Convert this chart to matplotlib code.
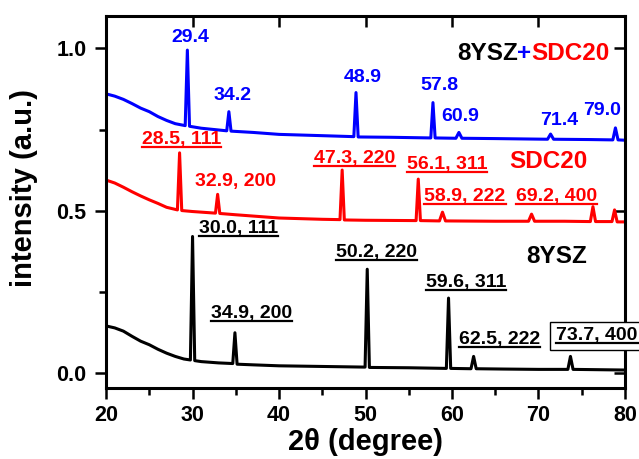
import matplotlib
matplotlib.use("Agg")
import matplotlib.pyplot as plt
from matplotlib.lines import Line2D
from matplotlib.ticker import MultipleLocator

plt.rcParams['font.family'] = ['Liberation Sans', 'DejaVu Sans']
plt.rcParams['font.weight'] = 'bold'

# 8YSZ (black)
ysz_x = [20, 21, 22, 23, 24, 25, 26, 27, 28, 29, 29.75, 30.0, 30.25, 31, 33,
         34.65, 34.9, 35.15, 37, 40, 45, 49.95, 50.2, 50.45, 55, 59.35, 59.6,
         59.85, 62.2, 62.5, 62.8, 66, 70, 73.4, 73.7, 74.0, 77, 80]
ysz_y = [0.144, 0.138, 0.128, 0.112, 0.097, 0.086, 0.072, 0.060, 0.050, 0.042,
         0.039, 0.420, 0.037, 0.034, 0.030, 0.028, 0.123, 0.026, 0.024, 0.021,
         0.019, 0.017, 0.319, 0.016, 0.015, 0.013, 0.230, 0.013, 0.012, 0.050,
         0.012, 0.011, 0.010, 0.010, 0.050, 0.010, 0.009, 0.008]

# SDC20 (red)
sdc_x = [20, 21, 22, 23, 24, 25, 26, 27, 28.25, 28.5, 28.75, 30, 32.65, 32.9,
         33.15, 35, 40, 45, 47.05, 47.3, 47.55, 50, 55.85, 56.1, 56.35, 58.55,
         58.9, 59.25, 65, 68.85, 69.2, 69.55, 73, 76.0, 76.3, 76.6, 78.5, 78.8,
         79.1, 80]
sdc_y = [0.594, 0.585, 0.572, 0.558, 0.545, 0.533, 0.522, 0.510, 0.502, 0.678,
         0.500, 0.497, 0.492, 0.550, 0.491, 0.487, 0.477, 0.473, 0.472, 0.625,
         0.471, 0.470, 0.469, 0.597, 0.469, 0.468, 0.495, 0.468, 0.467, 0.467,
         0.489, 0.467, 0.467, 0.466, 0.512, 0.466, 0.466, 0.502, 0.465, 0.465]

# 8YSZ+SDC20 (blue)
mix_x = [20, 21, 22, 23, 24, 25, 26, 27, 28, 29.15, 29.4, 29.65, 31, 33.95,
         34.2, 34.45, 37, 40, 45, 48.65, 48.9, 49.15, 53, 57.55, 57.8, 58.05,
         60.45, 60.8, 61.15, 65, 71.05, 71.4, 71.75, 76, 78.6, 78.9, 79.2, 80]
mix_y = [0.860, 0.853, 0.843, 0.830, 0.816, 0.805, 0.790, 0.778, 0.768, 0.762,
         0.995, 0.760, 0.754, 0.746, 0.805, 0.745, 0.741, 0.735, 0.731, 0.728,
         0.864, 0.727, 0.726, 0.724, 0.833, 0.724, 0.723, 0.741, 0.723, 0.722,
         0.720, 0.736, 0.720, 0.719, 0.718, 0.755, 0.718, 0.717]

# peak labels: (text, x, y[, underlined])
mix_labels = [("29.4", 29.7, 1.035), ("34.2", 34.6, 0.855), ("48.9", 49.7, 0.91),
              ("57.8", 58.5, 0.885), ("60.9", 61.0, 0.79), ("71.4", 72.4, 0.778),
              ("79.0", 77.3, 0.808)]
sdc_labels = [("28.5, 111", 28.75, 0.718, True), ("32.9, 200", 35.0, 0.589, False),
              ("47.3, 220", 48.7, 0.662, True), ("56.1, 311", 59.4, 0.643, True),
              ("58.9, 222", 61.5, 0.543, True), ("69.2, 400", 72.1, 0.543, True)]
ysz_labels = [("30.0, 111", 35.3, 0.446), ("34.9, 200", 36.8, 0.183),
              ("50.2, 220", 51.3, 0.370), ("59.6, 311", 61.6, 0.278),
              ("62.5, 222", 65.5, 0.101)]

BLUE = '#0000ff'
RED = '#ff0000'

fig = plt.figure(figsize=(6.39, 4.59), dpi=100)
ax = fig.add_axes([0.166, 0.155, 0.812, 0.810])

ax.plot(ysz_x, ysz_y, color='black', lw=2.2)
ax.plot(sdc_x, sdc_y, color=RED, lw=2.2)
ax.plot(mix_x, mix_y, color=BLUE, lw=2.2)

ax.set_xlim(20, 80)
ax.set_ylim(-0.047, 1.10)
ax.xaxis.set_major_locator(MultipleLocator(10))
ax.xaxis.set_minor_locator(MultipleLocator(5))
ax.yaxis.set_major_locator(MultipleLocator(0.5))
ax.yaxis.set_minor_locator(MultipleLocator(0.25))
ax.yaxis.set_major_formatter(matplotlib.ticker.FormatStrFormatter('%.1f'))
ax.tick_params(which='major', direction='out', length=8, width=1.8,
               labelsize=15.5, pad=4)
ax.tick_params(which='minor', direction='out', length=5, width=1.8)
ax.tick_params(axis='y', which='major', pad=6)
for s in ax.spines.values():
    s.set_linewidth(2.2)

top = ax.secondary_xaxis('top')
top.xaxis.set_major_locator(MultipleLocator(10))
top.tick_params(direction='in', length=8, width=1.8, labeltop=False)
right = ax.secondary_yaxis('right')
right.yaxis.set_major_locator(MultipleLocator(0.5))
right.tick_params(direction='in', length=8, width=1.8, labelright=False)

ax.set_xlabel('2θ (degree)', fontsize=21, fontweight='bold')
ax.set_ylabel('intensity (a.u.)', fontsize=21, fontweight='bold')
ax.xaxis.set_label_coords(0.5, -0.108)
ax.yaxis.set_label_coords(-0.131, 0.538)

underlined = []
for txt, x, y in mix_labels:
    ax.text(x, y, txt, color=BLUE, fontsize=14, ha='center', va='center')
for txt, x, y, ul in sdc_labels:
    t = ax.text(x, y, txt, color=RED, fontsize=14, ha='center', va='center')
    if ul:
        underlined.append((t, RED))
for txt, x, y in ysz_labels:
    t = ax.text(x, y, txt, color='black', fontsize=14, ha='center', va='center')
    underlined.append((t, 'black'))
t = ax.text(76.75, 0.113, "73.7, 400", color='black', fontsize=14, ha='center',
            va='center', clip_on=False,
            bbox=dict(boxstyle='square,pad=0.3', fc='white', ec='black', lw=1))
underlined.append((t, 'black'))

ax.text(71.2, 0.651, "SDC20", color=RED, fontsize=17.5, ha='center', va='center')
ax.text(72.1, 0.358, "8YSZ", color='black', fontsize=17.5, ha='center', va='center')
t1 = ax.text(60.6, 0.983, "8YSZ", color='black', fontsize=17.5, va='center')

fig.canvas.draw()
r = fig.canvas.get_renderer()
bb = t1.get_window_extent(r).transformed(ax.transData.inverted())
t2 = ax.text(bb.x1 - 0.15, 0.983, "+", color=BLUE, fontsize=17.5, va='center')
fig.canvas.draw()
bb = t2.get_window_extent(r).transformed(ax.transData.inverted())
ax.text(bb.x1, 0.983, "SDC20", color=RED, fontsize=17.5, va='center')

fig.canvas.draw()
inv = fig.transFigure.inverted()
for t, c in underlined:
    b = t.get_window_extent(r)
    (x0, y0), (x1, _) = inv.transform([(b.x0, b.y0 + 1), (b.x1, b.y0 + 1)])
    fig.add_artist(Line2D([x0, x1], [y0, y0], color=c, lw=1.6,
                          transform=fig.transFigure))

fig.savefig('out.png', dpi=100)
